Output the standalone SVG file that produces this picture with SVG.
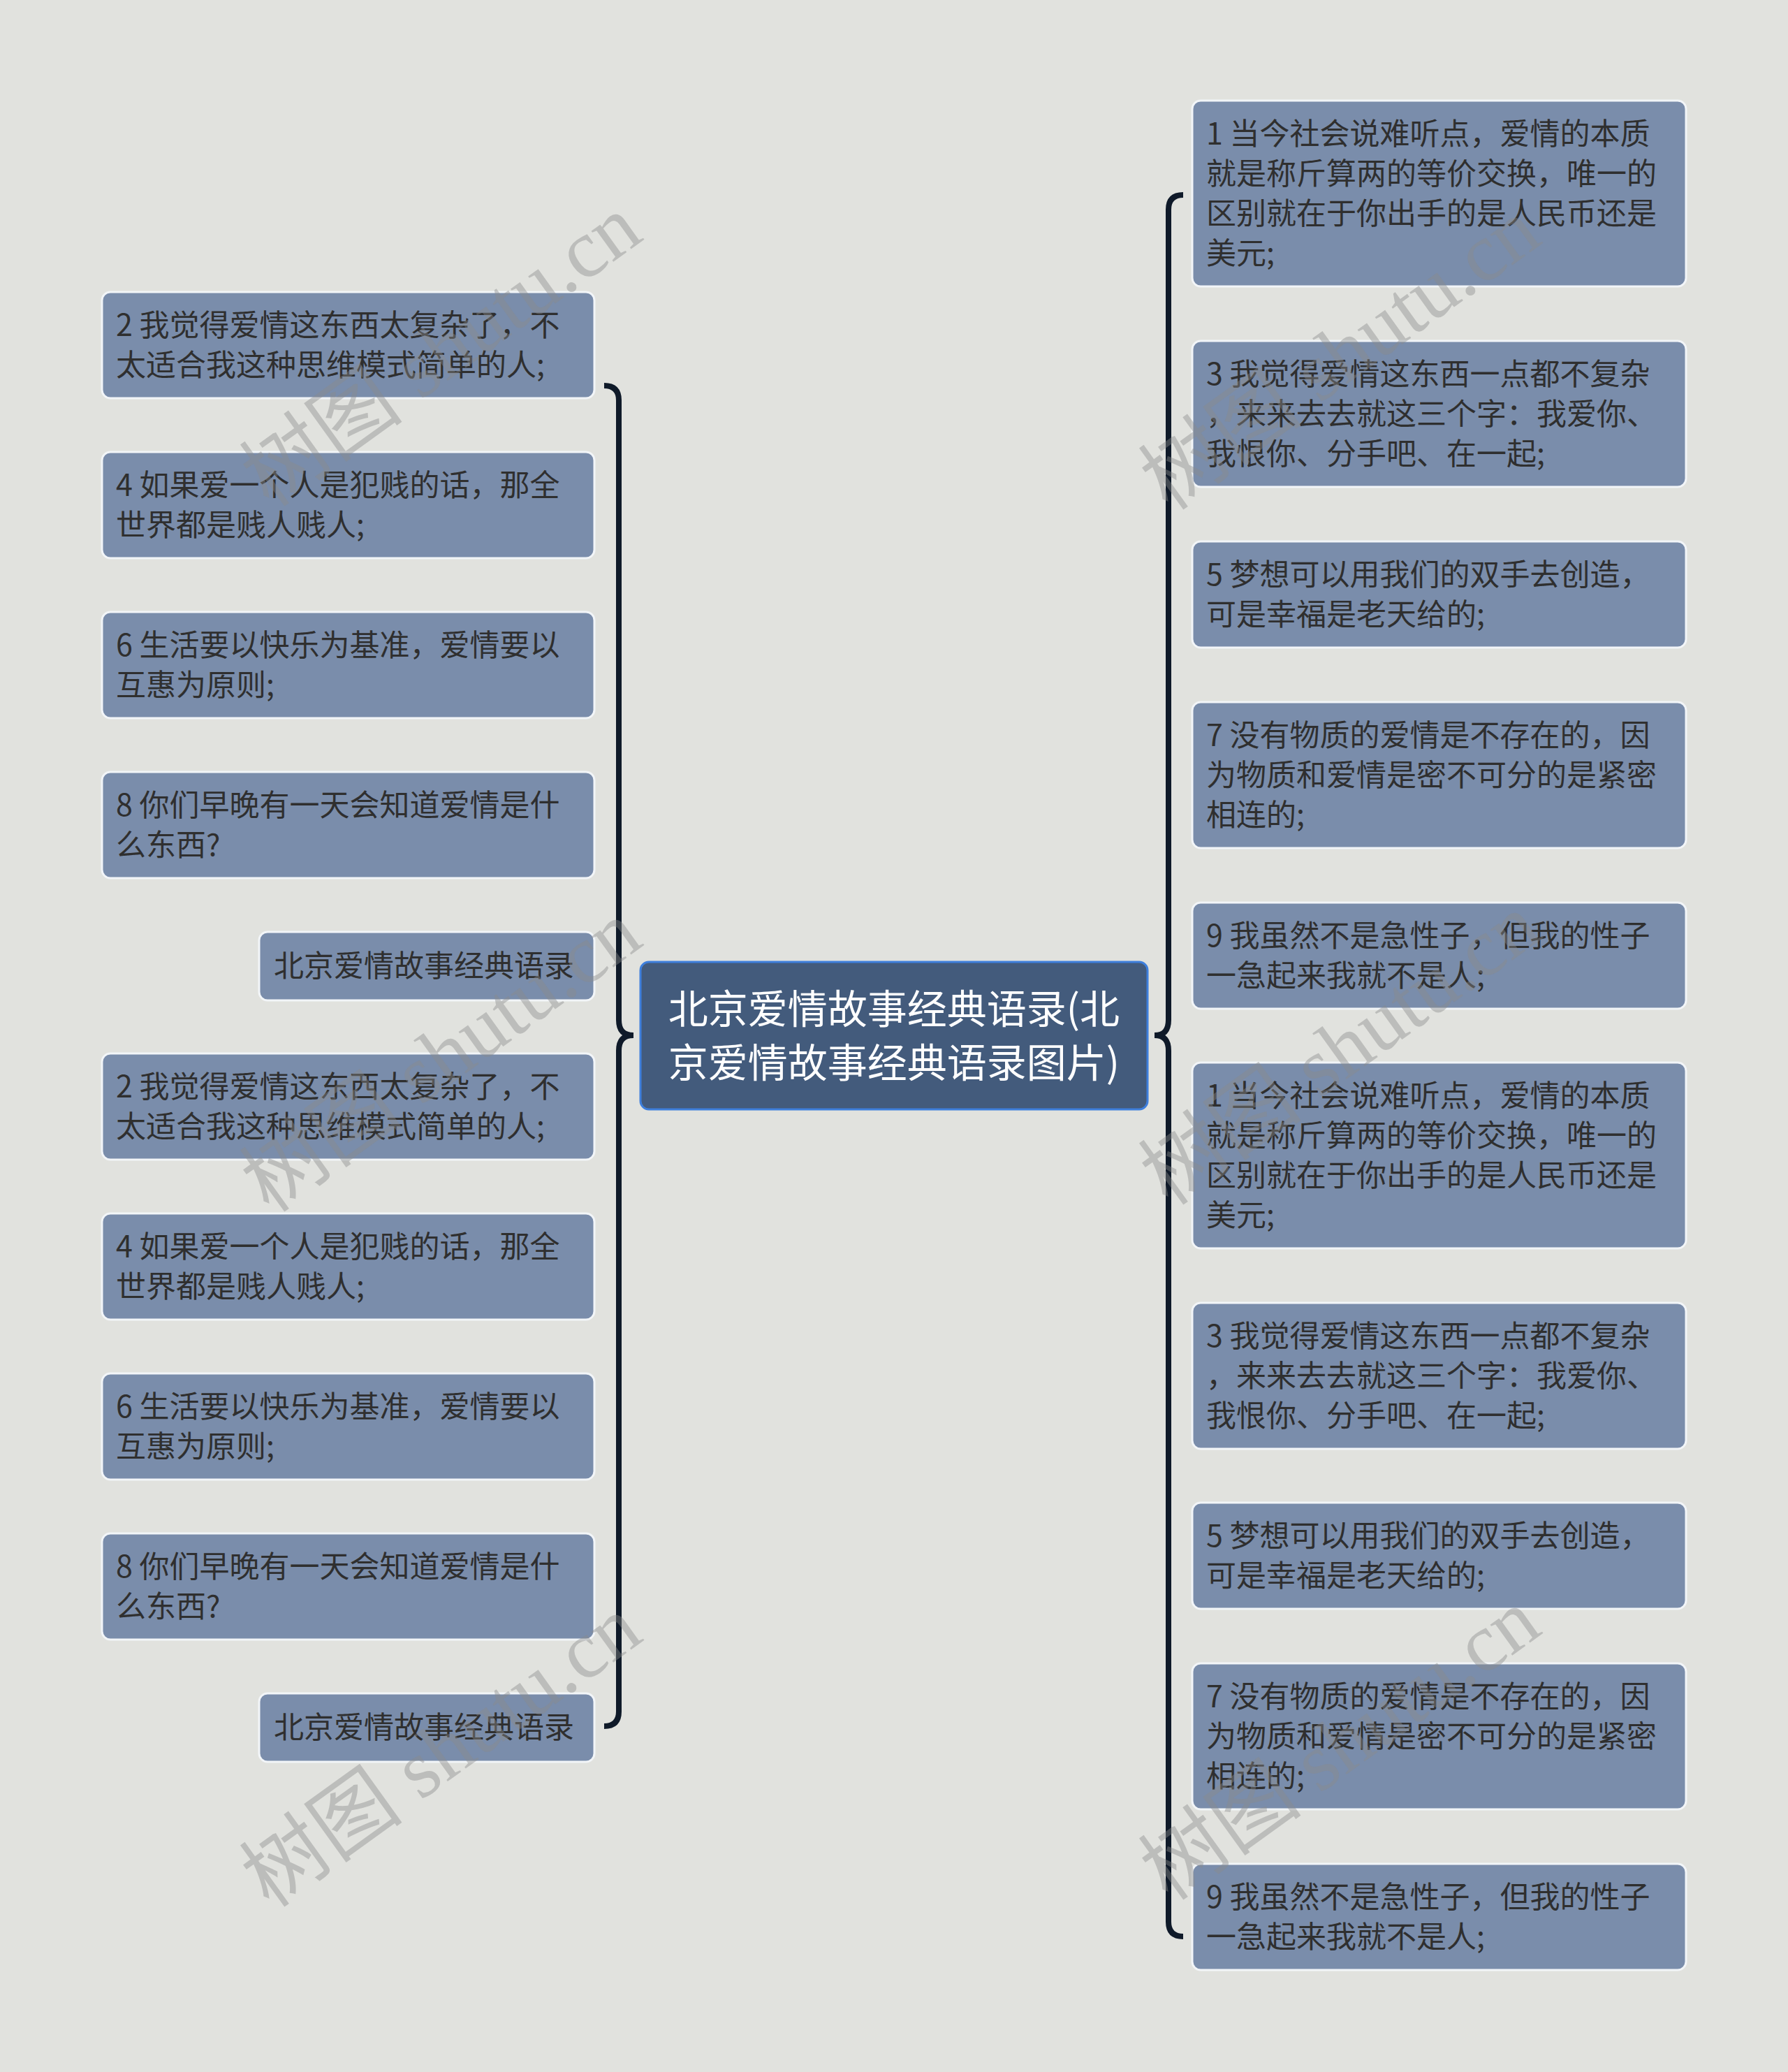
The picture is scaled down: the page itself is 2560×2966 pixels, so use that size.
<svg xmlns="http://www.w3.org/2000/svg" width="2560" height="2966" viewBox="0 0 2560 2966">
<style>
.bg{fill:#e1e2de}
.n rect{fill:#7a8dab;stroke:#f2f5f8;stroke-width:3}
.n text{font-family:"Noto Sans CJK SC","Noto Sans",sans-serif;font-size:43px;fill:#2f2f2f}
.c rect{fill:#435b7c;stroke:#3e7fdc;stroke-width:3}
.c text{font-family:"Noto Sans CJK SC","Noto Sans",sans-serif;font-size:57px;fill:#ffffff;text-anchor:middle}
.br{fill:none;stroke:#0f1a29;stroke-width:8;stroke-linecap:butt}
.wm{font-family:"Liberation Serif","Noto Sans CJK SC",serif;font-size:118px;fill:#8a8a8a;fill-opacity:0.42;text-anchor:middle}
</style>
<rect class="bg" x="0" y="0" width="2560" height="2966"/>
<g id="connectors">
<path class="br" d="M865,552 Q886,552 886,573 L886,1460 C886,1474 892,1482 907,1482 C892,1482 886,1490 886,1504 L886,2450 Q886,2471 865,2471"/>
<path class="br" d="M1694,279 Q1673,279 1673,300 L1673,1460 C1673,1474 1667,1482 1653,1482 C1667,1482 1673,1490 1673,1504 L1673,2751 Q1673,2772 1694,2772"/>
</g>
<g id="center" class="c">
<rect x="917" y="1377" width="726" height="211" rx="12"/>
<text x="1280" y="1465">北京爱情故事经典语录(北</text>
<text x="1280" y="1542">京爱情故事经典语录图片)</text>
</g>
<g id="left-1" class="n"><rect x="146" y="418" width="705" height="152" rx="12"/><text x="166" y="481">2 我觉得爱情这东西太复杂了，不</text><text x="166" y="538">太适合我这种思维模式简单的人;</text></g>
<g id="left-2" class="n"><rect x="146" y="647" width="705" height="152" rx="12"/><text x="166" y="710">4 如果爱一个人是犯贱的话，那全</text><text x="166" y="767">世界都是贱人贱人;</text></g>
<g id="left-3" class="n"><rect x="146" y="876" width="705" height="152" rx="12"/><text x="166" y="939">6 生活要以快乐为基准，爱情要以</text><text x="166" y="996">互惠为原则;</text></g>
<g id="left-4" class="n"><rect x="146" y="1105" width="705" height="152" rx="12"/><text x="166" y="1168">8 你们早晚有一天会知道爱情是什</text><text x="166" y="1225">么东西?</text></g>
<g id="left-5" class="n"><rect x="371" y="1334" width="480" height="98" rx="12"/><text x="392" y="1398">北京爱情故事经典语录</text></g>
<g id="left-6" class="n"><rect x="146" y="1508" width="705" height="152" rx="12"/><text x="166" y="1571">2 我觉得爱情这东西太复杂了，不</text><text x="166" y="1628">太适合我这种思维模式简单的人;</text></g>
<g id="left-7" class="n"><rect x="146" y="1737" width="705" height="152" rx="12"/><text x="166" y="1800">4 如果爱一个人是犯贱的话，那全</text><text x="166" y="1857">世界都是贱人贱人;</text></g>
<g id="left-8" class="n"><rect x="146" y="1966" width="705" height="152" rx="12"/><text x="166" y="2029">6 生活要以快乐为基准，爱情要以</text><text x="166" y="2086">互惠为原则;</text></g>
<g id="left-9" class="n"><rect x="146" y="2195" width="705" height="152" rx="12"/><text x="166" y="2258">8 你们早晚有一天会知道爱情是什</text><text x="166" y="2315">么东西?</text></g>
<g id="left-10" class="n"><rect x="371" y="2424" width="480" height="98" rx="12"/><text x="392" y="2488">北京爱情故事经典语录</text></g>
<g id="right-1" class="n"><rect x="1707" y="144" width="707" height="266" rx="12"/><text x="1727" y="207">1 当今社会说难听点，爱情的本质</text><text x="1727" y="264">就是称斤算两的等价交换，唯一的</text><text x="1727" y="321">区别就在于你出手的是人民币还是</text><text x="1727" y="378">美元;</text></g>
<g id="right-2" class="n"><rect x="1707" y="488" width="707" height="209" rx="12"/><text x="1727" y="551">3 我觉得爱情这东西一点都不复杂</text><text x="1727" y="608">，来来去去就这三个字：我爱你、</text><text x="1727" y="665">我恨你、分手吧、在一起;</text></g>
<g id="right-3" class="n"><rect x="1707" y="775" width="707" height="152" rx="12"/><text x="1727" y="838">5 梦想可以用我们的双手去创造，</text><text x="1727" y="895">可是幸福是老天给的;</text></g>
<g id="right-4" class="n"><rect x="1707" y="1005" width="707" height="209" rx="12"/><text x="1727" y="1068">7 没有物质的爱情是不存在的，因</text><text x="1727" y="1125">为物质和爱情是密不可分的是紧密</text><text x="1727" y="1182">相连的;</text></g>
<g id="right-5" class="n"><rect x="1707" y="1292" width="707" height="152" rx="12"/><text x="1727" y="1355">9 我虽然不是急性子，但我的性子</text><text x="1727" y="1412">一急起来我就不是人;</text></g>
<g id="right-6" class="n"><rect x="1707" y="1521" width="707" height="266" rx="12"/><text x="1727" y="1584">1 当今社会说难听点，爱情的本质</text><text x="1727" y="1641">就是称斤算两的等价交换，唯一的</text><text x="1727" y="1698">区别就在于你出手的是人民币还是</text><text x="1727" y="1755">美元;</text></g>
<g id="right-7" class="n"><rect x="1707" y="1865" width="707" height="209" rx="12"/><text x="1727" y="1928">3 我觉得爱情这东西一点都不复杂</text><text x="1727" y="1985">，来来去去就这三个字：我爱你、</text><text x="1727" y="2042">我恨你、分手吧、在一起;</text></g>
<g id="right-8" class="n"><rect x="1707" y="2151" width="707" height="152" rx="12"/><text x="1727" y="2214">5 梦想可以用我们的双手去创造，</text><text x="1727" y="2271">可是幸福是老天给的;</text></g>
<g id="right-9" class="n"><rect x="1707" y="2381" width="707" height="209" rx="12"/><text x="1727" y="2444">7 没有物质的爱情是不存在的，因</text><text x="1727" y="2501">为物质和爱情是密不可分的是紧密</text><text x="1727" y="2558">相连的;</text></g>
<g id="right-10" class="n"><rect x="1707" y="2668" width="707" height="152" rx="12"/><text x="1727" y="2731">9 我虽然不是急性子，但我的性子</text><text x="1727" y="2788">一急起来我就不是人;</text></g>
<g id="watermarks">
<text class="wm" transform="translate(655,535) rotate(-35.7)">树图 shutu.cn</text>
<text class="wm" transform="translate(1942,540) rotate(-35.7)">树图 shutu.cn</text>
<text class="wm" transform="translate(655,1545) rotate(-35.7)">树图 shutu.cn</text>
<text class="wm" transform="translate(1942,1535) rotate(-35.7)">树图 shutu.cn</text>
<text class="wm" transform="translate(655,2540) rotate(-35.7)">树图 shutu.cn</text>
<text class="wm" transform="translate(1942,2530) rotate(-35.7)">树图 shutu.cn</text>
</g>
</svg>
